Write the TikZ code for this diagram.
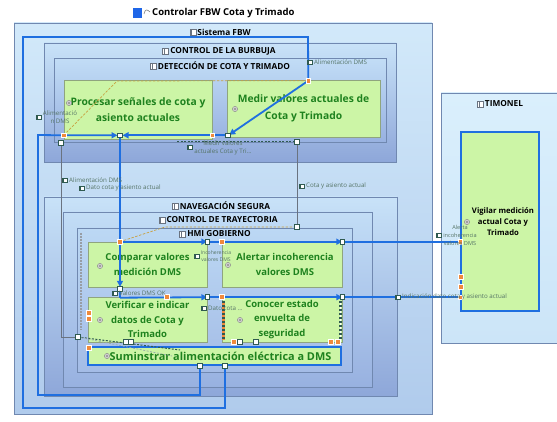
\documentclass[tikz,border=0pt]{standalone}
\usepackage{fontspec}
\setmainfont{Open Sans}
\usetikzlibrary{arrows.meta}
\definecolor{bluec}{HTML}{1F6FE0}
\definecolor{titleblue}{HTML}{1F66E8}
\definecolor{nodefill}{HTML}{CCF5A6}
\definecolor{nodeborder}{HTML}{8FA57E}
\definecolor{nodetext}{HTML}{1E821E}
\definecolor{contborder}{HTML}{7088B0}
\definecolor{lblcol}{HTML}{557466}
\definecolor{portor}{HTML}{F08A3C}
\definecolor{tanc}{HTML}{C8A040}
\definecolor{darkdash}{HTML}{2F5A50}
\definecolor{grayline}{HTML}{6A7380}
\definecolor{sisTop}{HTML}{D2E9FA}
\definecolor{sisBot}{HTML}{B0CBEC}
\definecolor{cTop}{HTML}{C8E2F8}
\definecolor{cBot}{HTML}{8EA7D9}
\definecolor{dTop}{HTML}{C2DDF6}
\definecolor{dBot}{HTML}{98B1E0}
\definecolor{hTop}{HTML}{BCD8F4}
\definecolor{hBot}{HTML}{A4BCE6}
\definecolor{timTop}{HTML}{DAEFFC}
\definecolor{timBot}{HTML}{CCE5F8}
\newcommand\ctricon[1]{\draw[grayline,fill=white,line width=0.4pt] ([xshift=-7.5pt,yshift=-3pt]#1.west) rectangle ([xshift=-1.5pt,yshift=3pt]#1.west);
  \draw[grayline,line width=0.4pt] ([xshift=-6pt,yshift=-3pt]#1.west) -- ([xshift=-6pt,yshift=3pt]#1.west);}
\newcommand\lblicon[1]{\draw[darkdash,fill=white,line width=0.35pt] ([xshift=-6.5pt,yshift=-2pt]#1.west) rectangle ([xshift=-1.5pt,yshift=2pt]#1.west);
  \fill[darkdash] ([xshift=-6.5pt,yshift=-2pt]#1.west) rectangle ([xshift=-5pt,yshift=2pt]#1.west);}
\newcommand\portsq[2]{\path #2 coordinate (tmpport); \filldraw[#1] ([shift={(-2.3,-2.3)}]tmpport) rectangle ([shift={(2.3,2.3)}]tmpport);}
\newcommand\cicon[1]{\filldraw[fill=gray!30,draw=gray,line width=0.4pt] #1 circle (2.6pt); \draw[gray,line width=0.3pt] #1 circle (1.2pt);}
\tikzset{
  cont/.style={draw=contborder,line width=0.6pt},
  clabel/.style={font=\bfseries\fontsize{8.3}{10}\selectfont,text=black,inner sep=0pt},
  fnode/.style={draw=nodeborder,fill=nodefill,line width=0.6pt,text=nodetext,align=center,inner sep=0pt},
  bignode/.style={fnode,font=\bfseries\fontsize{10.3}{16.5}\selectfont},
  hminode/.style={fnode,font=\bfseries\fontsize{9.5}{14.5}\selectfont},
  slbl/.style={font=\fontsize{6.2}{8}\selectfont,text=lblcol,inner sep=0pt,align=center},
  conn/.style={draw=bluec,line width=1.8pt},
  arr/.style={conn,-{Triangle[length=6pt,width=6pt]}},
  gline/.style={draw=grayline,line width=0.6pt},
  tandash/.style={draw=tanc,line width=0.7pt,dash pattern=on 2.5pt off 1.5pt},
  dkdash/.style={draw=darkdash,line width=1pt,dash pattern=on 2pt off 1.5pt},
  po/.style={fill=portor,draw=white,line width=0.5pt},
  pw/.style={fill=white,draw=darkdash,line width=0.5pt},
}
\begin{document}
\begin{tikzpicture}[x=1pt,y=-1pt]
\useasboundingbox (0,0) rectangle (557,422);
\fill[white] (0,0) rectangle (557,422);

% ---------- title ----------
\fill[titleblue] (133,8) rectangle (142,18);
\draw[gray,line width=0.6pt] (144,14) .. controls (145,9) and (147,9) .. (150,12);
\node[anchor=west,font=\bfseries\fontsize{9.5}{11}\selectfont,inner sep=0pt] (title) at (152,13) {Controlar FBW Cota y Trimado};

% ---------- containers ----------
\path[cont,top color=sisTop,bottom color=sisBot] (14,23) rectangle (432,414);
\node[clabel] (lsis) at (224,32) {Sistema FBW}; \ctricon{lsis}

\path[cont,top color=cTop,bottom color=cBot] (44,43) rectangle (396,162);
\node[clabel] (lbur) at (223,51) {CONTROL DE LA BURBUJA}; \ctricon{lbur}
\path[cont,top color=dTop,bottom color=dBot] (54,58) rectangle (386,142);
\node[clabel] (ldet) at (224,66) {DETECCIÓN DE COTA Y TRIMADO}; \ctricon{ldet}

\path[cont,top color=cTop,bottom color=cBot] (44,197) rectangle (397,396);
\node[clabel] (lnav) at (225,206) {NAVEGACIÓN SEGURA}; \ctricon{lnav}
\path[cont,top color=dTop,bottom color=dBot] (63,212) rectangle (372,387);
\node[clabel] (ltra) at (222,220) {CONTROL DE TRAYECTORIA}; \ctricon{ltra}
\path[cont,top color=hTop,bottom color=hBot] (77,228) rectangle (352,372);
\node[clabel] (lhmi) at (219,234) {HMI GOBIERNO}; \ctricon{lhmi}

\path[cont,top color=timTop,bottom color=timBot] (441,93) rectangle (557,343);
\node[clabel] (ltim) at (504,104) {TIMONEL}; \ctricon{ltim}

% ---------- function nodes ----------
\node[bignode,minimum width=148pt,minimum height=59pt] (proc) at (138,109.5) {Procesar señales de cota y\\asiento actuales};
\node[bignode,minimum width=153pt,minimum height=57pt] (medir) at (303.5,108.5) {Medir valores actuales de\\Cota y Trimado};
\node[hminode,minimum width=119pt,minimum height=45pt] (comp) at (147.5,264.5) {Comparar valores\\medición DMS};
\node[hminode,minimum width=120pt,minimum height=45pt] (alert) at (282,264.5) {\hspace*{6pt}Alertar incoherencia\\\hspace*{6pt}valores DMS};
\node[hminode,minimum width=119pt,minimum height=45pt] (verif) at (147.5,319.5) {Verificar e indicar\\datos de Cota y\\Trimado};
\node[hminode,minimum width=120pt,minimum height=45pt] (conoc) at (282,319.5) {Conocer estado\\envuelta de\\seguridad};
\node[fnode,draw=bluec,line width=1.8pt,font=\bfseries\fontsize{10.9}{12}\selectfont,minimum width=253pt,minimum height=18pt] (sumin) at (214.5,356) {\hspace*{12pt}Suminstrar alimentación eléctrica a DMS};
\node[fnode,draw=bluec,line width=1.6pt,text=black,font=\bfseries\fontsize{7.7}{11}\selectfont,minimum width=78pt,minimum height=179pt] (vig) at (500,221.5) {\hspace*{6pt}Vigilar medición\\\hspace*{6pt}actual Cota y\\\hspace*{6pt}Trimado};

% small component icons
\cicon{(69,103)} \cicon{(235,109)} \cicon{(100,266)} \cicon{(228,265)}
\cicon{(100,320)} \cicon{(240,320)} \cicon{(107,356)} \cicon{(467,222)}

% ---------- port coordinates ----------
\coordinate (pP1) at ([yshift=4pt]proc.south west);
\coordinate (pX)  at ([xshift=-18pt,yshift=4pt]proc.south);
\coordinate (pP2) at ([yshift=4pt]proc.south east);
\coordinate (pMl) at ([xshift=1pt,yshift=2pt]medir.south west);
\coordinate (pMtr) at ([xshift=-72pt,yshift=-1pt]medir.north east);
\coordinate (pCt) at ([xshift=-27.5pt]comp.north);
\coordinate (pCb) at ([xshift=-27.5pt,yshift=-1.5pt]comp.south);
\coordinate (pVt) at ([xshift=-27.5pt,yshift=-1pt]verif.north);
\coordinate (pS1) at ([xshift=-14.5pt]sumin.south);
\coordinate (pS2) at ([xshift=10.5pt]sumin.south);
\coordinate (pDl) at (61,143);
\coordinate (pDr) at (297,142);
\coordinate (pHt) at (297,227);
\coordinate (pHl) at (78,337);
\coordinate (pVa) at (vig.west |- alert.north);
\coordinate (pVc) at ([yshift=-0.5pt]vig.west |- conoc.north);

% ---------- gray lines ----------
\draw[gline] (pDl) -- (61,337) -- (pHl);
\draw[gline] (pDr) -- (pHt);

% ---------- dashed traces ----------
\draw[tandash] (pP1) -- (117,81) -- (pMtr);
\draw[tandash] (pCt) -- (165,227) -- (pHt);
\draw[dkdash] (177,142) -- (pDr);
\draw[dkdash] (pHl) -- (180,350);
\draw[dkdash,draw=darkdash!50,line width=0.7pt] (pHl) -- (172,356);
\draw[draw=grayline!70,line width=2.4pt,dash pattern=on 1.6pt off 1.4pt] (81,233) -- (81,330);
\draw[draw=darkdash,line width=2.2pt,dash pattern=on 2pt off 2pt] (223.5,301) -- (223.5,340);
\draw[draw=portor,line width=2.2pt,dash pattern=on 2pt off 2pt,dash phase=2pt] (223.5,301) -- (223.5,340);
\draw[draw=darkdash,line width=2.2pt,dash pattern=on 2pt off 2pt] (340.5,301) -- (340.5,340);
\draw[draw=white,line width=1.2pt,dash pattern=on 2pt off 2pt,dash phase=2pt] (340.5,301) -- (340.5,340);

% ---------- blue connectors ----------
\draw[arr] (pS2) -- (225,408) -- (23,408) -- (23,37) -- (308,37) -- (pMtr) -- ([shift={(2.5pt,2.5pt)}]medir.south west);
\draw[arr] (pS1) -- (200,395) -- (38,395) -- (38,135) -- (pP1) -- ([xshift=-2.5pt]pX);
\draw[arr] (pMl) -- (pP2) -- ([xshift=2.5pt]pX);
\draw[arr] (pX) -- ([yshift=2pt]pCb);
\draw[arr] (pCt) -- (comp.north east);
\draw[conn] (comp.north east) -- (alert.north west);
\draw[arr] (alert.north west) -- (alert.north east);
\draw[conn] (alert.north east) -- (pVa);
\draw[conn] (pCb) -- (pVt);
\draw[arr] (pVt) -- ([yshift=-0.5pt]verif.north east);
\draw[conn] ([yshift=-0.5pt]verif.north east) -- ([yshift=-0.5pt]conoc.north west);
\draw[arr] ([yshift=-0.5pt]conoc.north west) -- ([yshift=-0.5pt]conoc.north east);
\draw[conn] ([yshift=-0.5pt]conoc.north east) -- (pVc);

% ---------- ports ----------
\portsq{po}{(pP1)} \portsq{pw}{(pX)} \portsq{po}{(pP2)} \portsq{pw}{(pMl)} \portsq{po}{(pMtr)}
\portsq{pw}{(pDl)} \portsq{pw}{(pDr)} \portsq{pw}{(pHt)} \portsq{pw}{(pHl)}
\portsq{po}{(pCt)} \portsq{pw}{(pCb)} \portsq{po}{(167,297)}
\portsq{pw}{(comp.north east)} \portsq{po}{(alert.north west)} \portsq{pw}{(alert.north east)}
\portsq{pw}{(verif.north east)} \portsq{po}{(conoc.north west)} \portsq{pw}{(conoc.north east)}
\portsq{po}{(pVa)} \portsq{po}{(461,277)} \portsq{po}{(461,287)} \portsq{po}{(pVc)}
\portsq{po}{(89,348)} \portsq{pw}{(pS1)} \portsq{pw}{(pS2)}
\portsq{po}{(89,313)} \portsq{po}{(89,319)}
\portsq{pw}{(126,342)} \portsq{pw}{(131,342)}
\portsq{po}{(234,342)} \portsq{pw}{(240,342)} \portsq{pw}{(256,342)} \portsq{po}{(331,342)} \portsq{po}{(338,342)}

% ---------- small connector labels ----------
\node[slbl] (l1) at (60,117) {Alimentació\\n DMS}; \lblicon{l1}
\node[slbl,anchor=west] (l2) at (314,62) {Alimentación DMS}; \lblicon{l2}
\node[slbl] (l3) at (223,147.5) {Medir valores\\actuales Cota y Tri...}; \lblicon{l3}
\node[slbl,anchor=west] (l4) at (69,180) {Alimentación DMS}; \lblicon{l4}
\node[slbl,anchor=west] (l5) at (86,188) {Dato cota y asiento actual}; \lblicon{l5}
\node[slbl,anchor=west] (l6) at (306,186) {Cota y asiento actual}; \lblicon{l6}
\node[slbl,font=\fontsize{5.1}{7.5}\selectfont] (l7) at (216,256) {Incoherencia\\valores DMS}; \lblicon{l7}
\node[slbl,anchor=west] (l8) at (119,293) {Valores DMS OK}; \lblicon{l8}
\node[slbl,anchor=west] (l9) at (208,308) {Dato cota ...}; \lblicon{l9}
\node[slbl,font=\fontsize{5.6}{8}\selectfont] (l10) at (460,235) {Alerta\\incoherencia\\valores DMS}; \lblicon{l10}
\node[slbl,anchor=west] (l11) at (402,297) {Indicación dato cota y asiento actual}; \lblicon{l11}
\end{tikzpicture}
\end{document}
